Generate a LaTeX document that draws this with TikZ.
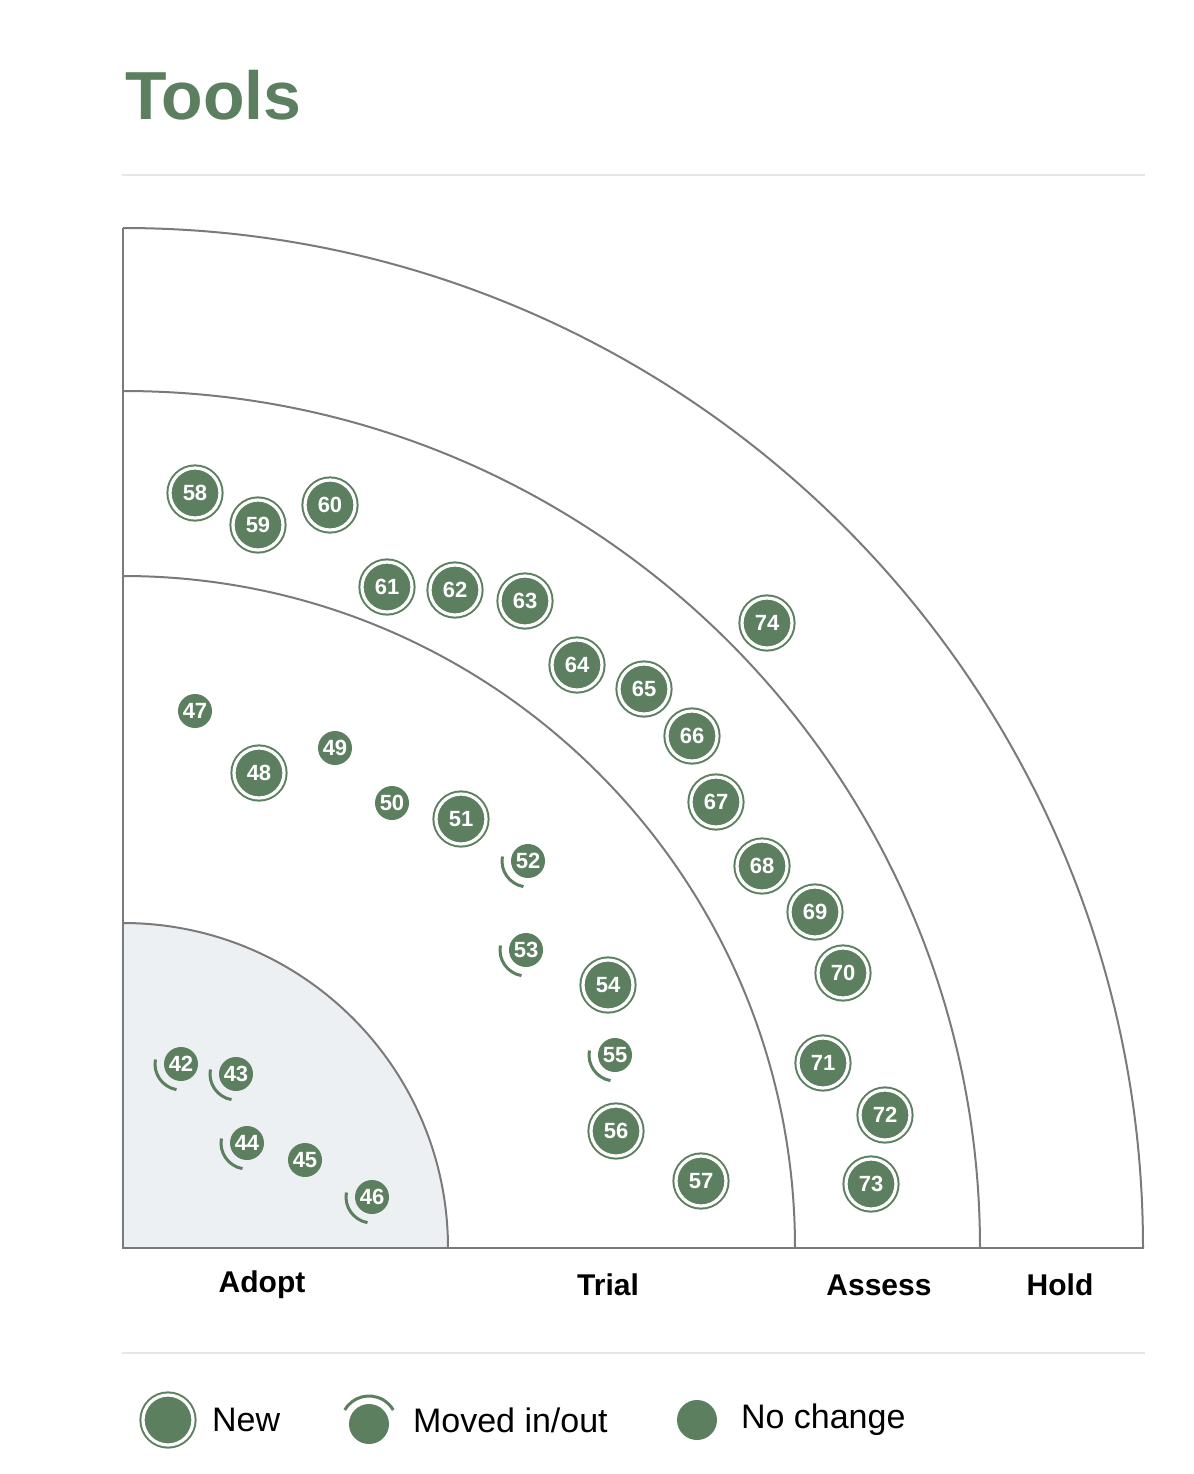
\documentclass[tikz,border=0pt]{standalone}
\usepackage{fontspec}
\setmainfont{Liberation Sans}
\usepackage{xcolor}
\usetikzlibrary{calc}
\definecolor{leaf}{HTML}{5B7F5F}
\definecolor{ringgray}{HTML}{7A7A7A}
\definecolor{adoptfill}{HTML}{EDF0F3}
\definecolor{rulegray}{HTML}{E6E6E6}

\tikzset{
  blip/.style={circle,fill=leaf,text=white,inner sep=0pt,minimum size=17pt,font=\bfseries\fontsize{11}{11}\selectfont},
  newblip/.style={blip,minimum size=25pt,draw=leaf,line width=1pt,double=white,double distance=1.6pt},
  ringlabel/.style={font=\bfseries\fontsize{15}{15}\selectfont},
  legendtext/.style={font=\fontsize{17}{17}\selectfont,anchor=west}
}

\begin{document}
\begin{tikzpicture}[x=0.5pt,y=-0.5pt]
\useasboundingbox (0,0) rectangle (1194,1474);

\node [anchor=west,text=leaf,font=\bfseries\fontsize{34}{34}\selectfont] (title) at (118,95) {Tools};
\draw [rulegray, line width=1] (122,175) -- (1145,175);
\draw [rulegray, line width=1] (122,1353) -- (1145,1353);

% rings
\fill [adoptfill] (123,1248) -- (448,1248) arc [start angle=0, end angle=-90, radius=325] -- cycle;
\foreach \r in {325,672,857,1020} {
  \draw [ringgray, line width=1] (123+\r,1248) arc [start angle=0, end angle=-90, radius=\r];
}
\draw [ringgray, line width=1] (123,228) -- (123,1248) -- (1144,1248);

\node [ringlabel] (adopt) at (262,1285) {Adopt};
\node [ringlabel] (trial) at (608,1285) {Trial};
\node [ringlabel] (assess) at (879,1285) {Assess};
\node [ringlabel] (hold) at (1060,1285) {Hold};

% no change
\foreach \n/\x/\y in {45/305/1160, 47/195/711, 49/335/748, 50/392/803}
  \node [blip] (b\n) at (\x,\y) {\n};

% moved in/out
\foreach \n/\x/\y in {42/181/1064, 43/236/1074, 44/247/1143, 46/372/1197, 52/528/861, 53/526/950, 55/615/1055} {
  \node [blip] (b\n) at (\x,\y) {\n};
  \draw [leaf, line width=1.5pt] ($(b\n.center)+(100:26)$) arc [start angle=100, end angle=190, radius=26];
}

% new
\foreach \n/\x/\y in {48/259/773, 51/461/819, 54/608/985, 56/616/1131, 57/701/1181,
  58/195/493, 59/258/525, 60/330/505, 61/387/587, 62/455/590, 63/525/601, 64/577/665,
  65/644/689, 66/692/736, 67/716/802, 68/762/866, 69/815/912, 70/843/973, 71/823/1063,
  72/885/1115, 73/871/1184, 74/767/623}
  \node [newblip] (b\n) at (\x,\y) {\n};

% legend
\node [newblip] (lnew) at (168,1420) {};
\node [legendtext] (lnewtext) at (205,1420) {New};
\node [blip,minimum size=20pt] (lmoved) at (369,1424) {};
\draw [leaf, line width=1.5pt] ($(lmoved.center)+(-150:28)$) arc [start angle=-150, end angle=-30, radius=28];
\node [legendtext] (lmovedtext) at (406,1420) {Moved in/out};
\node [blip,minimum size=20pt] (lnone) at (697,1420) {};
\node [legendtext] (lnonetext) at (734,1420) {No change};
\end{tikzpicture}
\end{document}
